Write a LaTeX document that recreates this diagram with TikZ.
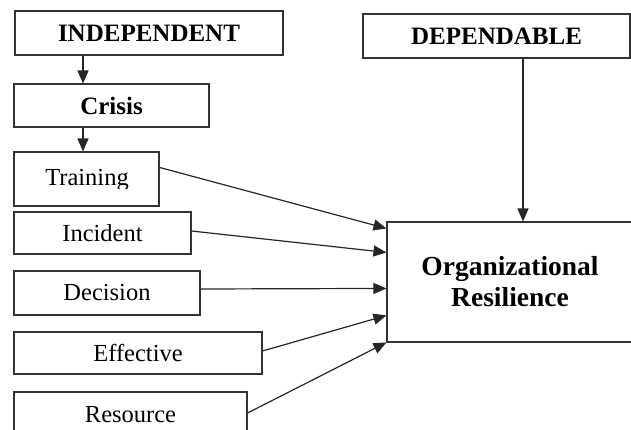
\documentclass[tikz,border=0pt]{standalone}
\usepackage{fontspec}
\setmainfont{Liberation Serif}
\usetikzlibrary{arrows.meta,calc}
\begin{document}
\begin{tikzpicture}[x=1pt,y=-1pt,
  box/.style={draw=black!80,line width=1.1pt,rectangle,inner sep=0pt,fill=white,
    font=\fontsize{24.5}{28}\selectfont},
  bbox/.style={box,font=\fontsize{25}{28}\selectfont\bfseries},
  arr/.style={draw=black!85,line width=1.2pt,-{Triangle[length=13pt,width=11pt]}}]
\clip (0,0) rectangle (631,430);
\fill[white] (0,0) rectangle (631,430);
% boxes
\node[bbox,minimum width=268,minimum height=44] (ind) at (149,33) {INDEPENDENT};
\node[bbox,minimum width=195,minimum height=43] (cri) at (111.5,105.5) {Crisis};
\node[box,minimum width=145,minimum height=54] (tra) at (86.5,179) {};
\begin{scope}
\clip (14,152) rectangle (159,188.5);
\node[anchor=base,inner sep=0pt,font=\fontsize{24.5}{28}\selectfont] (tratext) at (87,186) {Training};
\end{scope}
\node[box,minimum width=177,minimum height=42] (inc) at (102.5,233) {Incident};
\node[box,minimum width=186,minimum height=44] (dec) at (107,293) {Decision};
\node[box,minimum width=248,minimum height=42] (eff) at (138,353) {Effective};
\node[box,minimum width=233,minimum height=46] (res) at (130.5,415) {Resource};
\node[bbox,minimum width=267,minimum height=44] (dep) at (496.5,36) {DEPENDABLE};
\node[box,minimum width=246,minimum height=120,align=center,font=\fontsize{27.5}{31}\selectfont\bfseries] (org) at (510,282) {Organizational\\Resilience};
% guide coordinates
\coordinate (c1) at (83,0);
\coordinate (c2) at (523,0);
% vertical arrows
\draw[arr] (ind.south -| c1) -- (cri.north -| c1);
\draw[arr] (cri.south -| c1) -- (tra.north -| c1);
\draw[arr] (dep.south -| c2) -- (org.north -| c2);
% arrows into organizational resilience
\draw[arr] ($(tra.north east)+(0,16)$) -- ($(org.north west)+(0,7)$);
\draw[arr] ($(inc.east)+(0,-2)$) -- ($(org.north west)+(0,31)$);
\draw[arr] ($(dec.east)+(0,-4)$) -- ($(org.north west)+(0,67)$);
\draw[arr] ($(eff.east)+(0,-2)$) -- ($(org.north west)+(0,94)$);
\draw[arr] ($(res.east)+(0,-2)$) -- ($(org.north west)+(0,121)$);
\end{tikzpicture}
\end{document}
